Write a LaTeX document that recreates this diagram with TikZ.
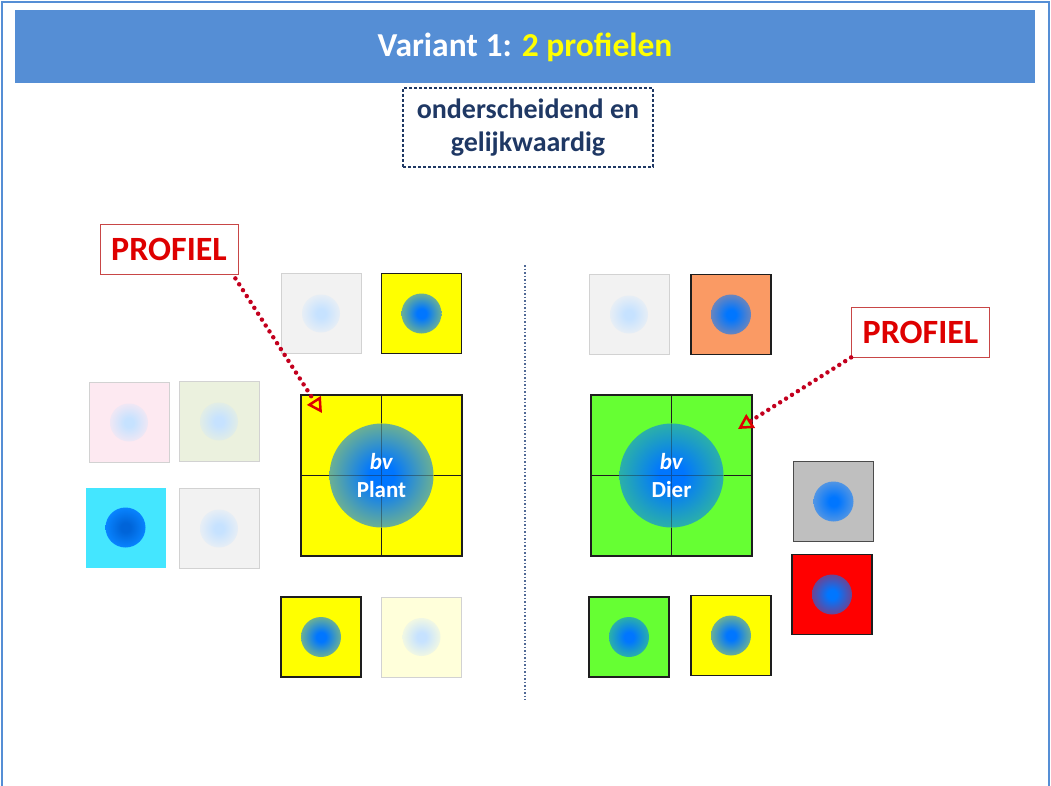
\documentclass[tikz,border=0pt]{standalone}
\usepackage{fontspec}
\setmainfont{Carlito}
\usetikzlibrary{arrows.meta}

\definecolor{barblue}{RGB}{85,142,213}
\definecolor{navy}{RGB}{31,56,100}
\definecolor{divider}{RGB}{80,105,150}
\definecolor{profred}{RGB}{222,0,0}
\definecolor{dotred}{RGB}{195,0,30}
\definecolor{profline}{RGB}{200,70,70}
\definecolor{tileline}{RGB}{30,30,30}
\definecolor{paleline}{RGB}{210,210,210}
\definecolor{dotcore}{RGB}{0,118,255}
\definecolor{paledot}{RGB}{198,226,255}
\definecolor{tyellow}{RGB}{255,255,0}
\definecolor{tgreen}{RGB}{102,255,51}
\definecolor{torange}{RGB}{250,154,100}
\definecolor{tgrey}{RGB}{191,191,191}
\definecolor{tred}{RGB}{255,0,0}
\definecolor{tcyan}{RGB}{68,230,255}
\definecolor{pgrey}{RGB}{242,242,242}
\definecolor{ppink}{RGB}{253,233,241}
\definecolor{pgreen}{RGB}{235,241,222}
\definecolor{pcream}{RGB}{255,255,218}
\colorlet{dotin}{dotcore}
\colorlet{dotout}{dotcore}
\pgfdeclareradialshading[dotin,dotout]{dotshade}{\pgfpoint{0bp}{0bp}}%
  {color(0bp)=(dotin); color(6bp)=(dotin); color(25bp)=(dotout); color(50bp)=(dotout)}

\begin{document}
\begin{tikzpicture}[x=1pt,y=-1pt,
  tile/.style={draw=tileline,line width=1.2pt,minimum size=80pt,inner sep=0pt,outer sep=0pt},
  pale/.style={draw=paleline,line width=0.8pt,minimum size=80pt,inner sep=0pt,outer sep=0pt},
  dot/.code={\colorlet{dotin}{dotcore}\colorlet{dotout}{#1!42!dotcore}\tikzset{shading=dotshade}},
  darkdot/.code={\colorlet{dotin}{dotcore!85!black}\colorlet{dotout}{#1!12!dotcore}\tikzset{shading=dotshade}},
  paledotted/.code={\colorlet{dotin}{paledot}\colorlet{dotout}{#1!75!paledot}\tikzset{shading=dotshade}},
  profiel/.style={draw=profline,fill=white,line width=0.8pt,text=profred,
    font=\bfseries\fontsize{34}{38}\selectfont,minimum width=138pt,minimum height=50pt,inner sep=0pt},
  pointer/.style={draw=dotred,line width=4.5pt,line cap=round,dash pattern=on 0pt off 7pt,
    -{Triangle[open,length=15pt,width=16pt,line width=2.5pt,line cap=butt,color=profred]}},
  bvtext/.style={text=white,align=center,font=\bfseries\fontsize{23}{28}\selectfont}]
\useasboundingbox (0,0) rectangle (1051,785);
\clip (0,0) rectangle (1051,785);
% frame and title
\draw[barblue,line width=2pt] (2,2) rectangle (1049,800);
\fill[barblue] (15,10) rectangle (1035,83);
\node[font=\bfseries\fontsize{33.5}{38}\selectfont,text=white] (title) at (525,47)
  {Variant 1: \textcolor{tyellow}{2 profielen}};
\node[draw=navy,line width=1.4pt,dash pattern=on 3pt off 2pt,minimum width=250pt,minimum height=79pt,
  text=navy,align=center,font=\bfseries\fontsize{28}{33}\selectfont] (claim) at (528,127.5)
  {onderscheidend en\\gelijkwaardig};
% divider
\coordinate (divtop) at (525,265);
\coordinate (divbot) at (525,700);
\draw[divider,line width=1.5pt,dash pattern=on 1.5pt off 2pt] (divtop) -- (divbot);

% left side
\node[pale,fill=pgrey] (greyTL) at (321,313.5) {};
\shade[paledotted=pgrey] (greyTL.center) circle (19pt);
\node[tile,fill=tyellow] (yelTL) at (421.5,313.5) {};
\shade[dot=tyellow] (yelTL.center) circle (20pt);
\node[pale,fill=ppink] (pinkL) at (129,422.5) {};
\shade[paledotted=ppink] (pinkL.center) circle (19pt);
\node[pale,fill=pgreen] (greenL) at (219,421.5) {};
\shade[paledotted=pgreen] (greenL.center) circle (19pt);
\node[minimum size=80pt,inner sep=0pt,fill=tcyan] (cyanL) at (125.5,527.5) {};
\shade[darkdot=tcyan] (cyanL.center) circle (20pt);
\node[pale,fill=pgrey] (greyL) at (219,528.5) {};
\shade[paledotted=pgrey] (greyL.center) circle (19pt);
\node[tile,fill=tyellow] (yelBL) at (321,637) {};
\shade[dot=tyellow] (yelBL.center) circle (20pt);
\node[pale,fill=pcream] (creamBL) at (421.5,637) {};
\shade[paledotted=pcream] (creamBL.center) circle (19pt);

\node[tile,fill=tyellow,minimum size=161pt] (plant) at (381.5,475.5) {};
\shade[dot=tyellow] (plant.center) circle (52pt);
\draw[tileline,line width=1.2pt,draw opacity=.4] (plant.north) -- (plant.south) (plant.west) -- (plant.east);
\draw[tileline,line width=1.2pt] (plant.north) -- ++(0,28) (plant.south) -- ++(0,-28)
  (plant.west) -- ++(28,0) (plant.east) -- ++(-28,0);
\node[bvtext] (plantlbl) at (plant.center) {\textit{bv}\\Plant};

\node[profiel] (profL) at (169,249) {PROFIEL};
\coordinate (tipL) at (322,413);
\draw[pointer] (profL.south east) ++(-3,4) -- (tipL);

% right side
\node[pale,fill=pgrey] (greyTR) at (629,314.5) {};
\shade[paledotted=pgrey] (greyTR.center) circle (19pt);
\node[tile,fill=torange] (orangeTR) at (731,314.5) {};
\shade[dot=torange] (orangeTR.center) circle (20pt);
\node[tile,draw=tileline!80,fill=tgrey] (greyR) at (833.5,501.5) {};
\shade[dot=tgrey] (greyR.center) circle (20pt);
\node[tile,fill=tred] (redR) at (832,594.5) {};
\shade[dot=tred] (redR.center) circle (20pt);
\node[tile,fill=tgreen] (greenBR) at (629,637) {};
\shade[dot=tgreen] (greenBR.center) circle (20pt);
\node[tile,fill=tyellow] (yelBR) at (731,635.5) {};
\shade[dot=tyellow] (yelBR.center) circle (20pt);

\node[tile,fill=tgreen,minimum size=161pt] (dier) at (671.5,475.5) {};
\shade[dot=tgreen] (dier.center) circle (52pt);
\draw[tileline,line width=1.2pt,draw opacity=.4] (dier.north) -- (dier.south) (dier.west) -- (dier.east);
\draw[tileline,line width=1.2pt] (dier.north) -- ++(0,28) (dier.south) -- ++(0,-28)
  (dier.west) -- ++(28,0) (dier.east) -- ++(-28,0);
\node[bvtext] (dierlbl) at (dier.center) {\textit{bv}\\Dier};

\node[profiel] (profR) at (920.5,332) {PROFIEL};
\coordinate (tipR) at (738,429);
\draw[pointer] (profR.south west) -- (tipR);
\end{tikzpicture}
\end{document}
